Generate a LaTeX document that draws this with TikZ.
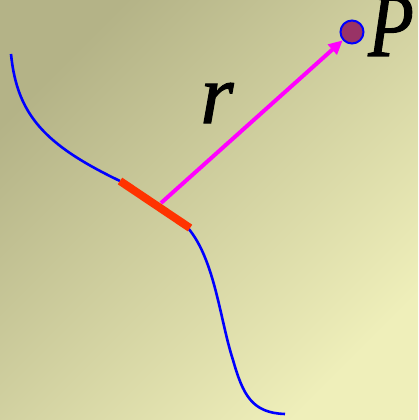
\documentclass[tikz,border=0pt]{standalone}
\usepackage{fontspec}
\setmainfont{Liberation Serif}
\newfontface\labelface{Liberation Serif Italic}[FakeBold=1.2]
\usepackage{xcolor}
\usepackage{graphicx}
\usepackage{tikz}
\usetikzlibrary{arrows.meta,positioning,calc}
\definecolor{bgdark}{HTML}{B4B387}
\definecolor{bglight}{HTML}{EFEFBA}
\definecolor{wire}{HTML}{0000FF}
\definecolor{element}{HTML}{FF3300}
\definecolor{vecpink}{HTML}{FF00FF}
\definecolor{pointfill}{HTML}{993366}
\newcommand{\biglabel}[1]{\fontsize{#1}{#1}\labelface}

\begin{document}
\begin{tikzpicture}[x=1pt,y=-1pt,>=Stealth]
  \shade[top color=bgdark,bottom color=bglight,shading angle=45] (0,0) rectangle (418,420);
  \useasboundingbox (0,0) rectangle (418,420);
  % conductor
  \draw[wire,line width=2.6pt] (11,54) .. controls (17,115) and (45,145) .. (120,181);
  \draw[wire,line width=2.6pt] (188,228) .. controls (215,260) and (220,320) .. (233,360)
    .. controls (243,395) and (252,413) .. (285,414);
  \coordinate (d1) at (120,181);
  \coordinate (d2) at (190,228);
  \draw[element,line width=8pt] (d1) -- (d2);
  \coordinate (dm) at (161,203);
  \node[circle,draw=wire,fill=pointfill,line width=2pt,minimum size=23pt,inner sep=0pt] (p) at (352,32) {};
  \draw[vecpink,line width=4pt,-{Triangle[length=14pt,width=13pt]}] (dm) -- (p);
  \node[font=\biglabel{91},inner sep=0pt,anchor=base] (plabel) at (391,56) {\scalebox{0.82}[1]{P}};
  \node[font=\biglabel{85},inner sep=0pt,anchor=base] (rlabel) at (217,123) {r};
\end{tikzpicture}
\end{document}
